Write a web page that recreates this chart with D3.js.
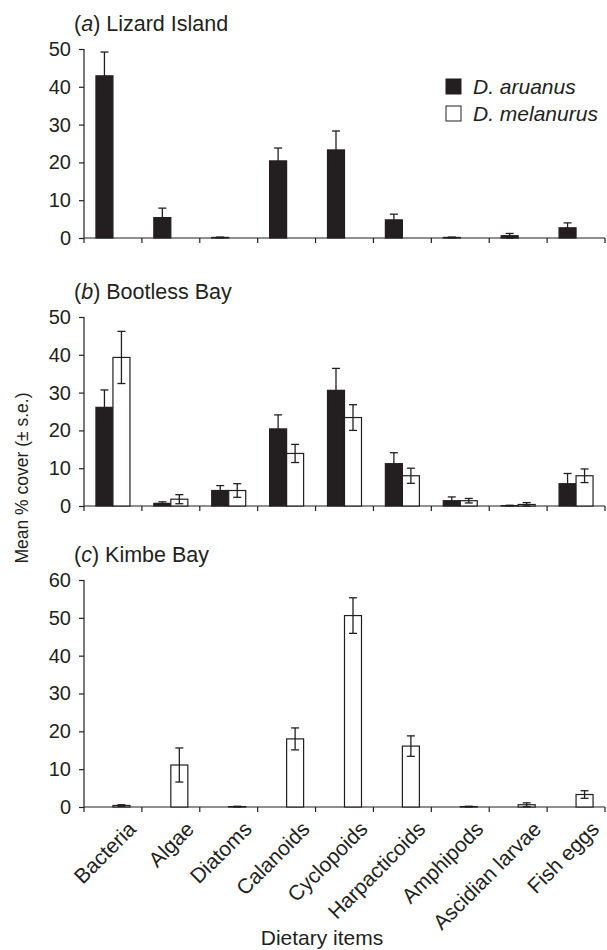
<!DOCTYPE html>
<html>
<head>
<meta charset="utf-8">
<script src="https://cdn.jsdelivr.net/npm/d3@7"></script>
<style>
  body { margin: 0; background: #fff; }
  svg text { font-family: "Liberation Sans", Arial, Helvetica, sans-serif; fill: #231f20; }
  .axis path, .axis line { stroke: #231f20; stroke-width: 1.2px; }
  .axis text { font-size: 20px; }
</style>
</head>
<body>
<div id="chart"></div>
<script>
var items = ["Bacteria", "Algae", "Diatoms", "Calanoids", "Cyclopoids", "Harpacticoids", "Amphipods", "Ascidian larvae", "Fish eggs"];

// (a) Lizard Island - D. aruanus only
var lizardAruanus   = [42.9, 5.4, 0.15, 20.4, 23.3, 4.8, 0.15, 0.6, 2.7],
    lizardAruanusSe = [6.3, 2.5, 0.1, 3.4, 5.0, 1.5, 0.1, 0.6, 1.3];

// (b) Bootless Bay - both species
var bootlessAruanus     = [26.1, 0.7, 4.1, 20.4, 30.6, 11.2, 1.4, 0.1, 5.9],
    bootlessAruanusSe   = [4.6, 0.4, 1.3, 3.7, 5.8, 2.9, 1.0, 0.1, 2.7],
    bootlessMelanurus   = [39.3, 1.8, 4.1, 13.9, 23.4, 8.0, 1.4, 0.4, 8.0],
    bootlessMelanurusSe = [6.9, 1.2, 1.8, 2.4, 3.4, 2.0, 0.6, 0.5, 1.8];

// (c) Kimbe Bay - D. melanurus only
var kimbeMelanurus   = [0.4, 11.1, 0.1, 18.0, 50.6, 16.1, 0.1, 0.6, 3.3],
    kimbeMelanurusSe = [0.2, 4.5, 0.1, 2.9, 4.7, 2.7, 0.1, 0.5, 1.0];

var species = ["D. aruanus", "D. melanurus"];
var fills = { "D. aruanus": "#231f20", "D. melanurus": "#ffffff" };

var panels = [
  { letter: "a", name: "Lizard Island", top: 49, bottom: 238, max: 50,
    series: [{ sp: "D. aruanus", v: lizardAruanus, se: lizardAruanusSe }] },
  { letter: "b", name: "Bootless Bay", top: 317, bottom: 506, max: 50,
    series: [{ sp: "D. aruanus", v: bootlessAruanus, se: bootlessAruanusSe },
             { sp: "D. melanurus", v: bootlessMelanurus, se: bootlessMelanurusSe }] },
  { letter: "c", name: "Kimbe Bay", top: 580, bottom: 807, max: 60,
    series: [{ sp: "D. melanurus", v: kimbeMelanurus, se: kimbeMelanurusSe }] }
];

var width = 607, height = 950,
    left = 84, right = 605,
    barW = 17, capW = 8;

var svg = d3.select("#chart").append("svg")
    .attr("width", width)
    .attr("height", height);

var x = d3.scaleBand()
    .domain(items)
    .range([left, right])
    .padding(0);

var xs = d3.scaleBand()
    .domain(species)
    .range([x.bandwidth() / 2 - barW, x.bandwidth() / 2 + barW]);

panels.forEach(function(p, pi) {
  var y = d3.scaleLinear()
      .domain([0, p.max])
      .range([p.bottom, p.top]);

  var g = svg.append("g");

  // title
  var t = g.append("text")
      .attr("x", 74)
      .attr("y", p.top - 18)
      .attr("font-size", "21.5px");
  t.append("tspan").text("(");
  t.append("tspan").attr("font-style", "italic").text(p.letter);
  t.append("tspan").text(") " + p.name);

  // y axis
  g.append("g")
      .attr("class", "axis")
      .attr("transform", "translate(" + left + ",0)")
      .call(d3.axisLeft(y).ticks(p.max / 10).tickSize(5).tickSizeOuter(0).tickPadding(8))
      .call(a => a.select(".domain").attr("d", "M0," + p.bottom + "V" + p.top));

  // x axis: ticks at category boundaries
  var xa = g.append("g")
      .attr("class", "axis")
      .attr("transform", "translate(0," + p.bottom + ")");
  xa.append("line")
      .attr("x1", left).attr("x2", right)
      .attr("stroke", "#231f20").attr("stroke-width", 1.2);
  xa.selectAll("line.tick")
      .data(items.concat(["end"]))
      .join("line")
      .attr("class", "tick")
      .attr("x1", (d, i) => i < items.length ? x(d) : right)
      .attr("x2", (d, i) => i < items.length ? x(d) : right)
      .attr("y1", 0).attr("y2", 5)
      .attr("stroke", "#231f20").attr("stroke-width", 1.2);

  p.series.forEach(function(s) {
    var data = items.map((d, i) => ({ item: d, v: s.v[i], se: s.se[i] }));
    var sg = g.append("g");

    sg.selectAll("rect")
      .data(data)
      .join("rect")
        .attr("x", d => x(d.item) + xs(s.sp))
        .attr("y", d => y(d.v))
        .attr("width", xs.bandwidth())
        .attr("height", d => p.bottom - y(d.v))
        .attr("fill", fills[s.sp])
        .attr("stroke", "#231f20")
        .attr("stroke-width", 1.2);

    var eb = sg.selectAll("g.err")
      .data(data)
      .join("g")
        .attr("class", "err")
        .attr("transform", d => "translate(" + (x(d.item) + xs(s.sp) + xs.bandwidth() / 2) + ",0)");
    eb.append("line")
        .attr("y1", d => y(d.v + d.se))
        .attr("y2", d => y(Math.max(0, d.v - d.se)));
    eb.append("line")
        .attr("x1", -capW / 2).attr("x2", capW / 2)
        .attr("y1", d => y(d.v + d.se)).attr("y2", d => y(d.v + d.se));
    eb.append("line")
        .attr("x1", -capW / 2).attr("x2", capW / 2)
        .attr("y1", d => y(Math.max(0, d.v - d.se))).attr("y2", d => y(Math.max(0, d.v - d.se)));
    eb.selectAll("line")
        .attr("stroke", "#231f20")
        .attr("stroke-width", 1.3);
  });

  // legend in first panel
  if (pi === 0) {
    var lg = g.selectAll("g.legend")
      .data(species)
      .join("g")
        .attr("class", "legend")
        .attr("transform", (d, i) => "translate(446," + (79 + i * 27) + ")");
    lg.append("rect")
        .attr("width", 15).attr("height", 15)
        .attr("fill", d => fills[d])
        .attr("stroke", "#231f20")
        .attr("stroke-width", 1);
    lg.append("text")
        .attr("x", 27).attr("y", 15)
        .attr("font-size", "21px")
        .attr("font-style", "italic")
        .text(d => d);
  }

  // category labels under last panel
  if (pi === panels.length - 1) {
    g.selectAll("text.cat")
      .data(items)
      .join("text")
        .attr("class", "cat")
        .attr("font-size", "21px")
        .attr("text-anchor", "end")
        .attr("transform", d => "translate(" + (x(d) + x.bandwidth() / 2 + 14) + "," + (p.bottom + 13) + ") rotate(-45)")
        .attr("dy", "0.7em")
        .text(d => d);
  }
});

// axis titles
svg.append("text")
    .attr("transform", "translate(28,478) rotate(-90)")
    .attr("text-anchor", "middle")
    .attr("font-size", "17.5px")
    .text("Mean % cover (\u00b1 s.e.)");

svg.append("text")
    .attr("x", 322)
    .attr("y", 945)
    .attr("text-anchor", "middle")
    .attr("font-size", "21px")
    .text("Dietary items");
</script>
</body>
</html>
